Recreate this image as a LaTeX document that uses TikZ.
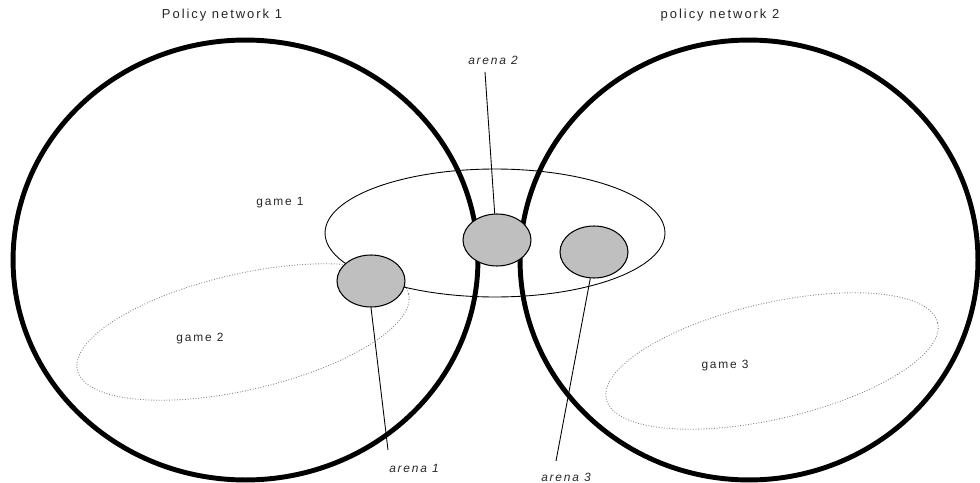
\documentclass[tikz,border=0pt]{standalone}
\usepackage{fontspec}
\usepackage{tikz}
\usetikzlibrary{shapes.geometric}
\usetikzlibrary{positioning}
\newfontfamily\lblfont[LetterSpace=15]{Liberation Sans}

\begin{document}
\begin{tikzpicture}[x=0.02cm,y=-0.02cm,
	network/.style={ellipse,draw,line width=2.8pt,inner sep=0pt},
	gamebox/.style={ellipse,draw,line width=0.5pt,inner sep=0pt},
	gamedots/.style={ellipse,draw=gray,densely dotted,line width=0.5pt,inner sep=0pt,
		minimum width=6.8cm,minimum height=2.32cm,rotate=13},
	arena/.style={ellipse,draw,fill=lightgray,line width=0.6pt,inner sep=0pt,
		minimum width=1.36cm,minimum height=1.04cm},
	lbl/.style={font=\lblfont\fontsize{6.8}{8}\selectfont,text=black!85},
	title/.style={font=\lblfont\fontsize{7.4}{9}\selectfont,text=black!85}]
	\useasboundingbox (0,0) rectangle (980,483);
	
	\node[network,minimum width=9.3cm,minimum height=8.8cm] (net1) at (245.5,260) {};
	\node[network,minimum width=9.16cm,minimum height=8.8cm] (net2) at (749,260) {};
	
	\node[gamebox,minimum width=6.8cm,minimum height=2.56cm] (game1) at (495,233) {};
	\node[gamedots] (game2) at (243,332) {};
	\node[gamedots] (game3) at (772,361) {};
	
	\node[arena] (a1) at (371,281) {};
	\node[arena] (a2) at (497,240) {};
	\node[arena] (a3) at (594,252) {};
	
	\node[title] (t1) at (222,15) {Policy network 1};
	\node[title] (t2) at (720,15) {policy network 2};
	
	\node[lbl] (g1) at (280,203) {game 1};
	\node[lbl] (g2) at (200,339) {game 2};
	\node[lbl] (g3) at (725,366) {game 3};
	
	\node[lbl,font=\lblfont\itshape\fontsize{6.8}{8}\selectfont] (l1) at (414,468) {arena 1};
	\node[lbl,font=\lblfont\itshape\fontsize{6.8}{8}\selectfont] (l2) at (493,60) {arena 2};
	\node[lbl,font=\lblfont\itshape\fontsize{6.8}{8}\selectfont] (l3) at (566,477) {arena 3};
	
	\coordinate (e1) at (388,450);
	\coordinate (e2) at (485,72);
	\coordinate (e3) at (556,461);
	\draw[line width=0.5pt] (a1.south) -- (e1);
	\draw[line width=0.5pt] (a2.95) -- (e2);
	\draw[line width=0.5pt] (a3.262) -- (e3);
\end{tikzpicture}
\end{document}
